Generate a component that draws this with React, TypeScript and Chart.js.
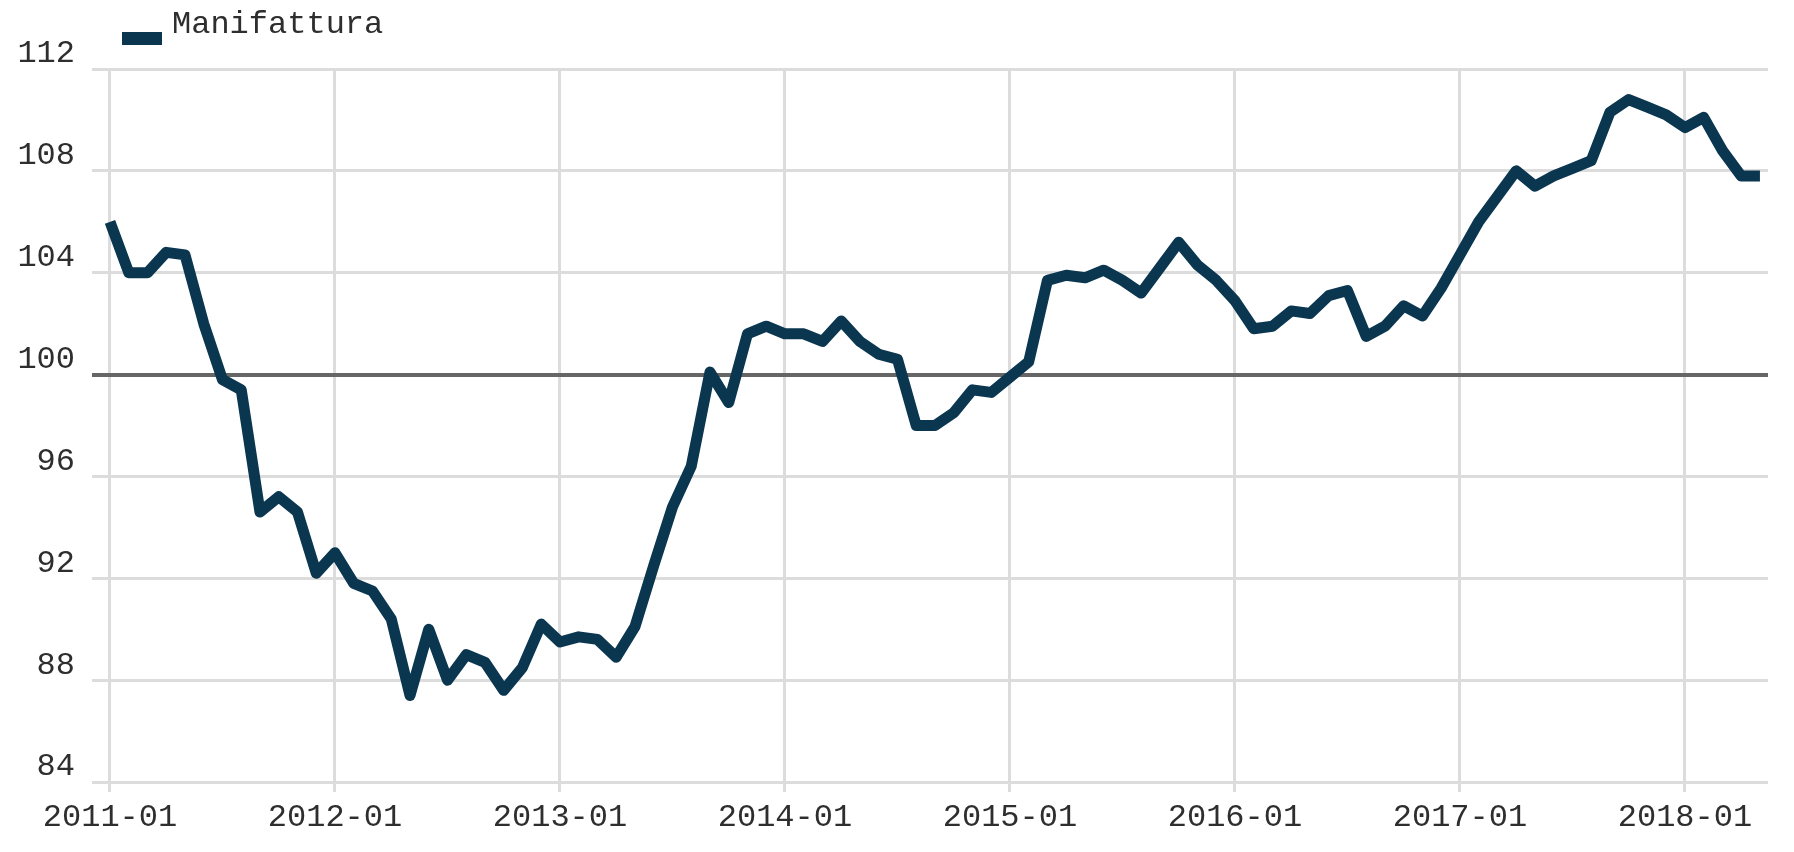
import React, { useEffect, useRef } from 'react';
import { Chart, registerables } from 'chart.js';

Chart.register(...registerables);

const seriesName = 'Manifattura';

const v2011 = [106.0, 104.0, 104.0, 104.8, 104.7, 102.0, 99.8, 99.4, 94.6, 95.2, 94.6, 92.2];
const v2012 = [93.0, 91.8, 91.5, 90.4, 87.4, 90.0, 88.0, 89.0, 88.7, 87.6, 88.5, 90.2];
const v2013 = [89.5, 89.7, 89.6, 88.9, 90.1, 92.5, 94.8, 96.4, 100.1, 98.9, 101.6, 101.9];
const v2014 = [101.6, 101.6, 101.3, 102.1, 101.3, 100.8, 100.6, 98.0, 98.0, 98.5, 99.4, 99.3];
const v2015 = [99.9, 100.5, 103.7, 103.9, 103.8, 104.1, 103.7, 103.2, 104.2, 105.2, 104.3, 103.7];
const v2016 = [102.9, 101.8, 101.9, 102.5, 102.4, 103.1, 103.3, 101.5, 101.9, 102.7, 102.3, 103.4];
const v2017 = [104.7, 106.0, 107.0, 108.0, 107.4, 107.8, 108.1, 108.4, 110.3, 110.8, 110.5, 110.2];
const v2018 = [109.7, 110.1, 108.8, 107.8, 107.8];

const values = [...v2011, ...v2012, ...v2013, ...v2014, ...v2015, ...v2016, ...v2017, ...v2018];

const tickMonths = [0, 12, 24, 36, 48, 60, 72, 84];
const tickLabels = ['2011-01', '2012-01', '2013-01', '2014-01', '2015-01', '2016-01', '2017-01', '2018-01'];

const yMin = 84;
const yMax = 112;
const yStep = 4;
const refLine = 100;

const LINE_COLOR = '#0a3650';
const FONT_FAMILY = '"Courier New", "Liberation Mono", monospace';

const legendPlugin = {
  id: 'customLegend',
  afterDraw(chart: any) {
    const ctx = chart.ctx;
    const ds = chart.data.datasets[0];
    ctx.save();
    ctx.fillStyle = ds.borderColor;
    ctx.fillRect(122, 32, 40, 13);
    ctx.fillStyle = '#2e2e2e';
    ctx.font = `32px ${FONT_FAMILY}`;
    ctx.textBaseline = 'alphabetic';
    ctx.textAlign = 'left';
    ctx.fillText(ds.label, 172, 33);
    ctx.restore();
  },
};

export default function App() {
  const canvasRef = useRef<HTMLCanvasElement | null>(null);

  useEffect(() => {
    document.body.style.margin = '0';
    const canvas = canvasRef.current;
    if (!canvas) return;
    const data = values.map((v, i) => ({ x: i, y: v }));
    const chart = new Chart(canvas, {
      type: 'line',
      data: {
        datasets: [
          {
            label: seriesName,
            data,
            borderColor: LINE_COLOR,
            backgroundColor: LINE_COLOR,
            borderWidth: 11,
            pointRadius: 0,
            tension: 0,
            borderJoinStyle: 'round',
            borderCapStyle: 'butt',
            fill: false,
          },
        ],
      },
      options: {
        animation: false,
        responsive: false,
        maintainAspectRatio: false,
        layout: { padding: { top: 69, right: 26, left: 0, bottom: 0 } },
        plugins: {
          legend: { display: false },
          tooltip: { enabled: false },
        },
        scales: {
          x: {
            type: 'linear',
            min: -0.96,
            max: 88.43,
            afterBuildTicks: (scale: any) => {
              scale.ticks = tickMonths.map((v) => ({ value: v }));
            },
            afterFit: (scale: any) => {
              scale.height = 70;
            },
            ticks: {
              autoSkip: false,
              maxRotation: 0,
              padding: 6,
              color: '#2e2e2e',
              font: { family: FONT_FAMILY, size: 32 },
              callback: (_v: any, i: number) => tickLabels[i],
            },
            grid: {
              color: '#dcdcdc',
              lineWidth: 3,
              drawTicks: true,
              tickLength: 10,
            },
            border: { display: false },
          },
          y: {
            min: yMin,
            max: yMax,
            afterFit: (scale: any) => {
              scale.width = 92;
            },
            ticks: {
              stepSize: yStep,
              padding: 17,
              labelOffset: -15,
              color: '#2e2e2e',
              font: { family: FONT_FAMILY, size: 32 },
            },
            grid: {
              drawTicks: false,
              color: (ctx: any) => (ctx.tick && ctx.tick.value === refLine ? '#666666' : '#dcdcdc'),
              lineWidth: (ctx: any) => (ctx.tick && ctx.tick.value === refLine ? 4 : 3),
            },
            border: { display: false },
          },
        },
      },
      plugins: [legendPlugin],
    });
    return () => chart.destroy();
  }, []);

  return (
    <div style={{ position: 'absolute', left: 0, top: 0, width: 1794, height: 852, background: '#ffffff' }}>
      <canvas ref={canvasRef} width={1794} height={852} style={{ display: 'block' }} />
    </div>
  );
}
